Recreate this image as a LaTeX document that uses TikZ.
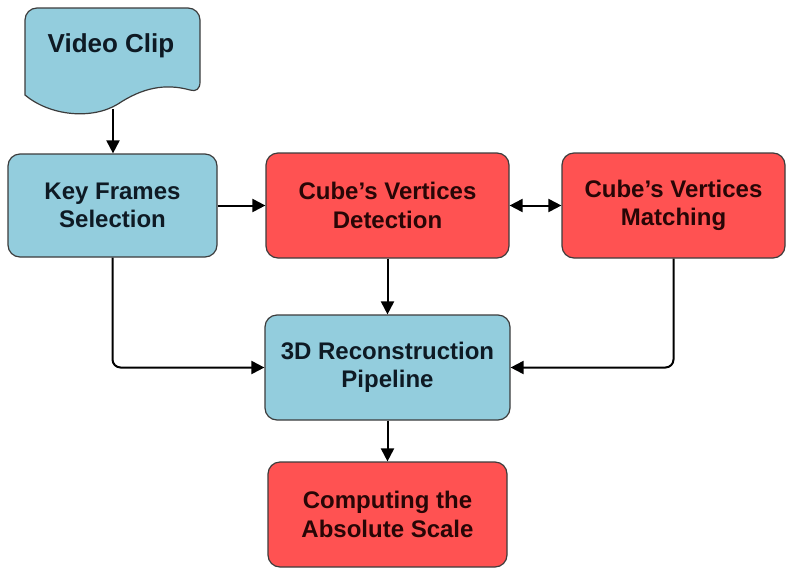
\documentclass[tikz,border=0pt]{standalone}
\usepackage{fontspec}
\setmainfont{Liberation Sans}
\usetikzlibrary{arrows.meta}
\definecolor{boxblue}{RGB}{147,205,221}
\definecolor{boxred}{RGB}{255,82,82}
\definecolor{edgegray}{RGB}{60,60,60}
\definecolor{bluetext}{RGB}{14,26,36}
\definecolor{redtext}{RGB}{40,6,6}
\begin{document}
\begin{tikzpicture}[x=1pt,y=-1pt,
  box/.style={draw=edgegray, line width=1.2pt, rounded corners=12pt, align=center,
    font=\bfseries\fontsize{24}{28.5}\selectfont, inner sep=0pt},
  bluebox/.style={box, fill=boxblue, text=bluetext},
  redbox/.style={box, fill=boxred, text=redtext},
  tip/.tip={Triangle[length=13pt,width=13pt]},
  link/.style={line width=2pt, -tip}]

\useasboundingbox[fill=white] (0,0) rectangle (787,571);

% document-shaped source box
\path[draw=edgegray, line width=1.2pt, fill=boxblue]
  (25,90) -- (25,20) [rounded corners=12pt] -- (25,8) -- (200,8) [sharp corners] -- (200,82)
  .. controls (200,89) and (196,92) .. (190,90)
  .. controls (165,83) and (142,88) .. (118,104)
  .. controls (92,120) and (50,116) .. (25,95) -- cycle;
\node[font=\bfseries\fontsize{26}{30}\selectfont, text=bluetext] (clip) at (111,46) {Video Clip};
\coordinate (clipb) at (113,109);

% process boxes
\node[bluebox, minimum width=209pt, minimum height=103pt] (keys) at (112.5,205.5) {Key Frames\\Selection};
\node[redbox, minimum width=243pt, minimum height=105pt] (detect) at (387.5,205.5) {Cube’s Vertices\\Detection};
\node[redbox, minimum width=223pt, minimum height=105pt] (match) at (673.5,205.5) {Cube’s Vertices\\Matching};
\node[bluebox, minimum width=245pt, minimum height=105pt] (recon) at (387.5,367.5) {3D Reconstruction\\Pipeline};
\node[redbox, minimum width=239pt, minimum height=105pt] (scale) at (387.5,514.5) {Computing the\\Absolute Scale};

% connectors
\draw[link] (clipb) -- (keys.north -| clipb);
\draw[link] (keys.east) -- (detect.west);
\draw[link, tip-tip] (detect.east) -- (match.west);
\draw[link] (detect.south) -- (recon.north);
\draw[link] (recon.south) -- (scale.north);
\draw[link, rounded corners=8pt] (keys.south) |- (recon.west);
\draw[link, rounded corners=8pt] (match.south) |- (recon.east);
\end{tikzpicture}
\end{document}
